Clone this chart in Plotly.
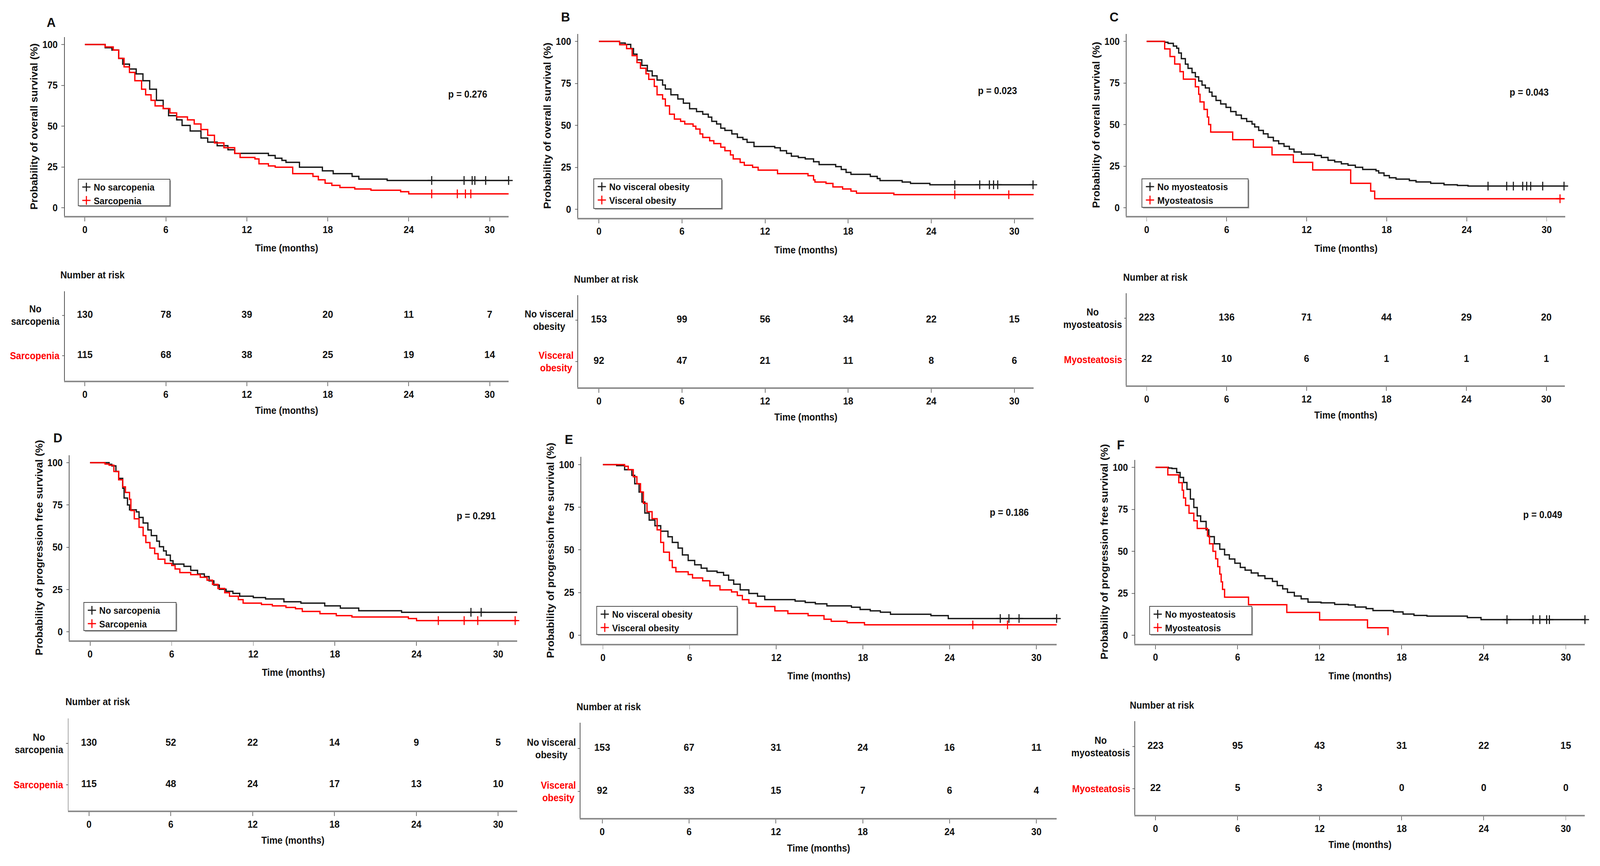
import numpy as np
import plotly.graph_objects as go

W, H = 4352, 2218

# ---------------------------------------------------------------- data
MONTH_TICKS = [0, 6, 12, 18, 24, 30]
PROB_TICKS = [0, 25, 50, 75, 100]
OS_TITLE = "Probability of overall survival (%)"
PFS_TITLE = "Probability of progression free survival (%)"
P_VALUES = ["p = 0.276", "p = 0.023", "p = 0.043", "p = 0.291", "p = 0.186", "p = 0.049"]
PANEL_LETTERS = ["A", "B", "C", "D", "E", "F"]

LBL_SARC = ["No sarcopenia", "Sarcopenia"]
LBL_VISC = ["No visceral obesity", "Visceral obesity"]
LBL_MYO = ["No myosteatosis", "Myosteatosis"]
ROW_SARC = ["No<br>sarcopenia", "Sarcopenia"]
ROW_VISC = ["No visceral<br>obesity", "Visceral<br>obesity"]
ROW_MYO = ["No<br>myosteatosis", "Myosteatosis"]

# Panel A - OS, sarcopenia
A_no_t = [0, 1.5, 2.0, 2.5, 2.8, 3.3, 3.8, 4.3, 4.8, 5.3, 5.8, 6.2, 6.8, 7.2, 7.8, 8.6, 9.1, 9.8, 10.6, 11.1,
          13.6, 14.1, 14.6, 14.9, 15.9, 17.6, 18.4, 19.8, 20.3, 22.4, 31.4]
A_no_s = [100, 98, 96.6, 91.5, 88, 85, 82, 77.8, 72.6, 65.8, 60.7, 56.4, 53.8, 50.4, 47, 42.7, 40.2, 38, 35.5, 33.3,
          32, 30.3, 29, 27.8, 24.8, 22.6, 20.9, 19.2, 17.5, 16.7, 16.7]
A_no_cens = [25.7, 28.1, 28.7, 28.9, 29.7, 31.4]
A_yes_t = [0, 1.5, 2.1, 2.5, 2.9, 3.3, 3.7, 4.2, 4.5, 4.9, 5.2, 5.8, 6.3, 6.8, 7.6, 8.1, 8.6, 9.1, 9.6, 10.3,
           11.1, 11.5, 12.6, 12.9, 13.6, 14.1, 15.4, 16.9, 17.3, 17.8, 18.3, 18.9, 20.0, 21.2, 23.4, 24.0, 31.4]
A_yes_s = [100, 98.5, 96.6, 91.5, 86.3, 82.9, 77.8, 72.6, 69.2, 65.8, 62.4, 60.7, 58.1, 55.6, 53.8, 51.3, 47.9, 44.4,
           39.7, 36.8, 33.3, 30.8, 29.9, 26.9, 25.6, 24.8, 20.9, 19.2, 17.1, 15, 13.7, 12.4, 11.5, 10.7, 9.8, 8.5, 8.5]
A_yes_cens = [25.7, 27.6, 28.2, 28.6]
A_risk_no = [130, 78, 39, 20, 11, 7]
A_risk_yes = [115, 68, 38, 25, 19, 14]

# Panel B - OS, visceral obesity
B_no_t = [0, 1.5, 1.9, 2.3, 2.5, 2.75, 3.1, 3.5, 3.85, 4.2, 4.6, 4.8, 5.2, 5.7, 6.1, 6.55, 7.05, 7.5, 7.9, 8.15,
          8.5, 8.8, 9.1, 9.6, 10.0, 10.4, 10.7, 11.2, 12.7, 13.1, 13.55, 13.9, 14.4, 14.9, 15.5, 15.9, 17.1, 17.5,
          17.85, 18.2, 19.6, 20.1, 20.3, 21.9, 22.5, 23.9, 31.35]
B_no_s = [100, 99, 98.2, 95.7, 92.4, 89, 85.7, 82.4, 79.5, 77, 74, 71.6, 68.2, 65.7, 63.2, 59.9, 58.2, 56.6, 54.9,
          52.4, 50.8, 48.3, 47, 44.9, 42.8, 41.6, 39.9, 37.4, 36.6, 34.9, 33.3, 31.6, 30.8, 30, 28.3, 26.6, 25.4,
          23.7, 22, 20.8, 19.6, 18.3, 17.1, 16.2, 15.4, 14.6, 14.6]
B_no_cens = [25.7, 27.5, 28.2, 28.5, 28.8, 31.35]
B_yes_t = [0, 1.5, 2.0, 2.4, 2.75, 3.0, 3.4, 3.6, 4.0, 4.2, 4.6, 4.8, 5.1, 5.45, 5.9, 6.2, 6.8, 7.0, 7.3, 7.5, 8.0,
           8.3, 8.8, 9.1, 9.5, 9.7, 10.2, 10.5, 11.1, 11.5, 12.9, 15.1, 15.5, 15.6, 16.4, 16.9, 17.6, 18.2, 18.6,
           21.3, 31.4]
B_yes_s = [100, 98, 95.7, 91.5, 87.4, 84, 80.7, 77.4, 73.2, 68.2, 65.7, 61.6, 56.6, 53.7, 52.4, 50.8, 49.5, 47.8,
           44.9, 42.8, 40.8, 39.1, 37, 34.9, 32.4, 30, 27.9, 26.2, 25, 23.3, 21.2, 20, 17.5, 16.2, 15.4, 13.3, 12.1,
           10.8, 9.6, 8.7, 8.7]
B_yes_cens = [25.7, 29.6, 32.0]
B_risk_no = [153, 99, 56, 34, 22, 15]
B_risk_yes = [92, 47, 21, 11, 8, 6]

# Panel C - OS, myosteatosis
C_no_t = [0, 1.35, 1.6, 2.0, 2.25, 2.4, 2.6, 2.9, 3.1, 3.4, 3.65, 3.9, 4.15, 4.4, 4.7, 4.9, 5.2, 5.55, 5.95, 6.3,
          6.7, 7.1, 7.5, 7.9, 8.1, 8.4, 8.75, 9.1, 9.5, 9.9, 10.3, 10.7, 11.05, 11.6, 12.6, 13.1, 13.6, 14.1, 14.6,
          15.1, 15.65, 16.2, 17.2, 17.4, 17.8, 18.2, 18.7, 19.7, 20.2, 21.3, 22.3, 23.3, 24.1, 31.3]
C_no_s = [100, 99.5, 98.8, 97.2, 95.9, 93, 89.6, 86.3, 83.8, 81.2, 78.7, 76.2, 73.7, 72, 69.5, 67, 64.5, 62.4, 60.3,
          57.8, 55.7, 53.6, 51.9, 50.3, 48.6, 46.5, 44.4, 42.3, 40.2, 38.5, 36.9, 35.2, 33.5, 32.2, 31.4, 30.2, 28.5,
          27.6, 26.4, 25.5, 24.3, 23, 22.2, 20.9, 19.3, 18, 17.2, 16.3, 15.5, 14.7, 13.8, 13.4, 13, 13]
C_no_cens = [25.6, 27.0, 27.5, 28.2, 28.5, 28.8, 29.7, 31.3]
C_yes_t = [0, 1.35, 1.75, 2.1, 2.5, 2.75, 3.65, 3.9, 4.0, 4.3, 4.55, 4.65, 4.8, 6.45, 8.0, 9.4, 11.0, 12.45, 15.3,
           16.8, 17.1, 31.35]
C_yes_s = [100, 95.5, 90.9, 86.4, 81.8, 77.3, 72.7, 68.2, 63.6, 59.1, 54.5, 50, 45.5, 40.9, 36.4, 31.8, 27.3, 22.7,
           14.7, 10, 5.4, 5.4]
C_yes_cens = [31.0]
C_risk_no = [223, 136, 71, 44, 29, 20]
C_risk_yes = [22, 10, 6, 1, 1, 1]

# Panel D - PFS, sarcopenia
D_no_t = [0, 1.4, 1.6, 1.9, 2.1, 2.4, 2.5, 2.75, 2.9, 3.4, 3.6, 3.9, 4.25, 4.5, 4.9, 5.1, 5.4, 5.6, 5.9, 6.1, 6.9,
          7.4, 7.9, 8.4, 8.75, 9.1, 9.5, 10.0, 10.5, 11.0, 12.0, 12.9, 14.25, 15.5, 17.25, 18.4, 19.75, 22.9, 31.4]
D_no_s = [100, 99, 98.1, 94.8, 90.7, 84.9, 79.1, 75, 72.1, 70.9, 67.6, 64.3, 60.2, 56.9, 53.6, 50.3, 47.8, 45.3, 42,
          40, 38.7, 36.3, 34.2, 32.6, 30.1, 27.6, 25.1, 23.9, 22.7, 21, 20.2, 19.4, 17.7, 16.9, 15.3, 14, 12.4, 11.5,
          11.5]
D_no_cens = [28.0, 28.75]
D_yes_t = [0, 1.1, 1.4, 1.75, 2.1, 2.4, 2.6, 2.9, 3.0, 3.25, 3.6, 3.9, 4.1, 4.4, 4.75, 5.0, 5.5, 6.0, 6.25, 6.6,
           7.4, 8.1, 8.6, 9.0, 9.4, 9.9, 10.25, 10.9, 11.25, 12.6, 13.4, 14.4, 15.1, 15.6, 16.9, 18.1, 19.25, 23.4,
           24.0, 31.4]
D_yes_s = [100, 99.2, 98.5, 94.8, 89.9, 85.7, 82.4, 78.3, 71.7, 66.8, 61.8, 56.9, 52.8, 49.5, 46.2, 42.9, 40.4, 39.2,
           37.1, 35, 33.8, 32.2, 30.5, 28, 25.6, 23.1, 21, 19, 16.9, 16.1, 15.3, 14.4, 13.6, 12, 10.7, 9.5, 8.7, 7.8,
           6.6, 6.6]
D_yes_cens = [25.6, 27.5, 28.5, 31.25]
D_risk_no = [130, 52, 22, 14, 9, 5]
D_risk_yes = [115, 48, 24, 17, 13, 10]

# Panel E - PFS, visceral obesity
E_no_t = [0, 0.95, 1.5, 2.0, 2.2, 2.5, 2.7, 2.9, 3.2, 3.6, 4.0, 4.5, 4.8, 5.2, 5.5, 5.9, 6.35, 6.8, 7.2, 7.9, 8.35,
          8.7, 9.05, 9.5, 10.1, 10.7, 11.2, 13.3, 14.0, 14.7, 15.5, 17.2, 17.8, 18.5, 19.2, 19.9, 22.7, 23.9, 31.4]
E_no_s = [100, 99.4, 97, 93.7, 88.8, 83.9, 78.1, 71.6, 67.5, 64.2, 61, 57.7, 54.4, 51.1, 47.1, 43.8, 41.3, 39.3,
          37.6, 36.8, 35.2, 32.3, 29.9, 26.6, 24.5, 22.9, 20.9, 20, 19.2, 18.4, 17.2, 16.4, 15.1, 14.3, 13.5, 12.3,
          11.5, 9.8, 9.8]
E_no_cens = [27.5, 28.1, 28.8, 31.4]
E_yes_t = [0, 1.5, 1.75, 2.1, 2.35, 2.6, 2.8, 3.05, 3.4, 3.75, 4.0, 4.2, 4.6, 4.8, 5.05, 5.9, 6.2, 6.9, 7.4, 8.1,
           8.9, 9.3, 9.65, 10.1, 10.6, 11.9, 12.8, 14.2, 15.3, 15.8, 16.9, 18.1, 31.4]
E_yes_s = [100, 99, 97, 92.9, 88.8, 83.9, 77.3, 72.4, 68.3, 61.8, 54.4, 48.7, 43.8, 39.7, 37.2, 35.6, 33.6, 31.9,
           29, 26.6, 25.4, 23.3, 20.9, 18.8, 16.8, 14.3, 12.7, 11.5, 9.4, 8.2, 7.4, 6.1, 6.1]
E_yes_cens = [25.6, 28.0]
E_risk_no = [153, 67, 31, 24, 16, 11]
E_risk_yes = [92, 33, 15, 7, 6, 4]

# Panel F - PFS, myosteatosis
F_no_t = [0, 0.95, 1.2, 1.55, 1.8, 2.05, 2.3, 2.55, 2.8, 3.05, 3.3, 3.7, 3.9, 4.3, 4.7, 5.05, 5.4, 5.8, 6.2, 6.55,
          7.0, 7.5, 8.0, 8.55, 8.9, 9.3, 9.65, 10.15, 10.65, 11.15, 12.1, 13.1, 14.1, 14.6, 15.4, 15.9, 17.4, 18.1,
          18.9, 19.85, 22.8, 23.8, 31.4]
F_no_s = [100, 99.6, 99.3, 96.9, 94, 91, 86.9, 81.1, 76.1, 71.1, 67.8, 62.8, 58.7, 54.5, 51.2, 47.9, 45.4, 42.9,
          40.4, 38.8, 37.1, 35.4, 33.8, 32.1, 29.6, 27.6, 25.5, 23.4, 21.7, 19.7, 19.3, 18.4, 18, 16.8, 15.9, 14.7,
          13.9, 12.6, 11.8, 11.4, 10.5, 9.3, 9.3]
F_no_cens = [25.7, 27.6, 28.1, 28.6, 28.8, 31.4]
F_yes_t = [0, 0.9, 1.7, 1.95, 2.05, 2.2, 2.45, 2.8, 3.05, 3.8, 3.95, 4.2, 4.4, 4.55, 4.7, 4.8, 4.9, 5.05, 6.8, 9.6,
           12.0, 15.5, 17.0]
F_yes_s = [100, 95.5, 90.9, 86.4, 81.8, 77.3, 72.7, 68.2, 63.6, 59.1, 54.5, 50, 45.5, 40.9, 36.4, 31.8, 27.3, 22.7,
           18.2, 13.6, 9.1, 4.5, 0]
F_yes_cens = []
F_risk_no = [223, 95, 43, 31, 22, 15]
F_risk_yes = [22, 5, 3, 0, 0, 0]

# ---------------------------------------------------------------- styling / layout geometry (pixels)
FONT = "Liberation Sans, Arial, Helvetica, sans-serif"
BLACK = "#1a1a1a"
RED = "#ff0000"
TXT = 25


def fnt(size, color="#111111"):
    return dict(family=FONT, size=size, color=color, weight="bold")


panels = [
    dict(km=(231, 1332, 114, 532), risk=(231, 1332, 808, 911), letter=(139, 57), p=(1272, 241),
         box=(213, 459, 462, 527), nar=(162, 704), t1=A_no_t, s1=A_no_s, c1=A_no_cens, t2=A_yes_t, s2=A_yes_s,
         c2=A_yes_cens, n1=A_risk_no, n2=A_risk_yes, labels=LBL_SARC, rows=ROW_SARC, ytitle=OS_TITLE),
    dict(km=(1629, 2759, 106, 536), risk=(1629, 2759, 820, 926), letter=(1538, 43), p=(2713, 232),
         box=(1615, 458, 1963, 534), nar=(1559, 715), t1=B_no_t, s1=B_no_s, c1=B_no_cens, t2=B_yes_t, s2=B_yes_s,
         c2=B_yes_cens, n1=B_risk_no, n2=B_risk_yes, labels=LBL_VISC, rows=ROW_VISC, ytitle=OS_TITLE),
    dict(km=(3119, 4207, 106, 532), risk=(3119, 4206, 815, 921), letter=(3030, 43), p=(4159, 236),
         box=(3106, 458, 3395, 531), nar=(3053, 710), t1=C_no_t, s1=C_no_s, c1=C_no_cens, t2=C_yes_t, s2=C_yes_s,
         c2=C_yes_cens, n1=C_risk_no, n2=C_risk_yes, labels=LBL_MYO, rows=ROW_MYO, ytitle=OS_TITLE),
    dict(km=(245, 1355, 1185, 1618), risk=(242, 1355, 1904, 2010), letter=(157, 1121), p=(1295, 1321),
         box=(228, 1543, 479, 1615), nar=(176, 1797), t1=D_no_t, s1=D_no_s, c1=D_no_cens, t2=D_yes_t, s2=D_yes_s,
         c2=D_yes_cens, n1=D_risk_no, n2=D_risk_yes, labels=LBL_SARC, rows=ROW_SARC, ytitle=PFS_TITLE),
    dict(km=(1640, 2819, 1190, 1627), risk=(1638, 2819, 1917, 2027), letter=(1547, 1125), p=(2745, 1312),
         box=(1623, 1553, 2005, 1625), nar=(1566, 1810), t1=E_no_t, s1=E_no_s, c1=E_no_cens, t2=E_yes_t,
         s2=E_yes_s, c2=E_yes_cens, n1=E_risk_no, n2=E_risk_yes, labels=LBL_VISC, rows=ROW_VISC, ytitle=PFS_TITLE),
    dict(km=(3143, 4259, 1197, 1627), risk=(3143, 4259, 1912, 2020), letter=(3048, 1139), p=(4196, 1318),
         box=(3127, 1553, 3405, 1625), nar=(3071, 1806), t1=F_no_t, s1=F_no_s, c1=F_no_cens, t2=F_yes_t,
         s2=F_yes_s, c2=F_yes_cens, n1=F_risk_no, n2=F_risk_yes, labels=LBL_MYO, rows=ROW_MYO, ytitle=PFS_TITLE),
]

X_RANGE = [-1.5, 31.4]
Y_RANGE = [-5, 104.5]
R_RANGE = [-0.62, 1.6]


def step_at(ts, ss, c):
    ts = np.asarray(ts, dtype=float)
    ss = np.asarray(ss, dtype=float)
    c = np.asarray(c, dtype=float)
    if c.size == 0:
        return []
    idx = np.clip(np.searchsorted(ts, c, side="right") - 1, 0, len(ss) - 1)
    return ss[idx].tolist()


def px_x(v):
    return v / W


def px_y(v):
    return 1 - v / H


fig = go.Figure()
layout = dict(width=W, height=H, margin=dict(l=0, r=0, t=0, b=0), autosize=False,
              paper_bgcolor="white", plot_bgcolor="white", font=fnt(TXT), annotations=[], shapes=[],
              showlegend=True)

for i, P in enumerate(panels):
    k = i + 1
    kr = i + 7
    leg_name = "legend" if k == 1 else f"legend{k}"
    xa, ya = f"x{k}", f"y{k}"
    xr, yr = f"x{kr}", f"y{kr}"

    # --- KM curves + censor marks
    for t, s, c, col in [(P["t1"], P["s1"], P["c1"], BLACK), (P["t2"], P["s2"], P["c2"], RED)]:
        fig.add_trace(go.Scatter(x=t, y=s, mode="lines", line=dict(color=col, width=3.5, shape="hv"),
                                 xaxis=xa, yaxis=ya, showlegend=False, hoverinfo="skip"))
        fig.add_trace(go.Scatter(x=c, y=step_at(t, s, c), mode="markers",
                                 marker=dict(symbol="cross-thin-open", size=16, color=col,
                                             line=dict(color=col, width=3)),
                                 xaxis=xa, yaxis=ya, cliponaxis=False, showlegend=False, hoverinfo="skip"))
    # --- legend entries (censor-mark symbol, no data drawn)
    for col, lab in [(BLACK, P["labels"][0]), (RED, P["labels"][1])]:
        fig.add_trace(go.Scatter(x=[None], y=[None], mode="markers", name=lab, legend=leg_name,
                                 marker=dict(symbol="cross-thin-open", size=16, color=col,
                                             line=dict(color=col, width=3)),
                                 xaxis=xa, yaxis=ya, showlegend=True))

    # --- risk table numbers
    for yrow, vals in [(1, P["n1"]), (0, P["n2"])]:
        fig.add_trace(go.Scatter(x=MONTH_TICKS, y=[yrow] * len(vals), mode="text",
                                 text=[str(v) for v in vals], textposition="middle center",
                                 textfont=fnt(26), xaxis=xr, yaxis=yr, showlegend=False,
                                 hoverinfo="skip", cliponaxis=False))

    # --- KM axes geometry
    x0, x30, y100, y0 = P["km"]
    ppm = (x30 - x0) / 30.0
    ppp = (y0 - y100) / 100.0
    left, right = x0 + X_RANGE[0] * ppm, x0 + X_RANGE[1] * ppm
    top, bot = y0 - Y_RANGE[1] * ppp, y0 - Y_RANGE[0] * ppp
    layout[f"xaxis{k}"] = dict(domain=[px_x(left), px_x(right)], range=X_RANGE, anchor=ya,
                               tickvals=MONTH_TICKS, ticks="outside", ticklen=10, tickwidth=2,
                               tickcolor="#777777", showline=True, linewidth=4, linecolor="#8c8c8c",
                               showgrid=False, zeroline=False, tickfont=fnt(TXT),
                               title=dict(text="Time (months)", font=fnt(TXT), standoff=27))
    layout[f"yaxis{k}"] = dict(domain=[px_y(bot), px_y(top)], range=Y_RANGE, anchor=xa,
                               tickvals=PROB_TICKS, ticks="outside", ticklen=7, tickwidth=2,
                               tickcolor="#777777", showline=True, linewidth=2, linecolor="#555555",
                               showgrid=False, zeroline=False, tickfont=fnt(TXT), ticklabelstandoff=5,
                               title=dict(text=P["ytitle"], font=fnt(27), standoff=5))

    # --- risk axes geometry
    rx0, rx30, r1, r2 = P["risk"]
    rppm = (rx30 - rx0) / 30.0
    d = r2 - r1
    rleft, rright = rx0 + X_RANGE[0] * rppm, rx0 + X_RANGE[1] * rppm
    rtop, rbot = r2 - R_RANGE[1] * d, r2 - R_RANGE[0] * d
    layout[f"xaxis{kr}"] = dict(domain=[px_x(rleft), px_x(rright)], range=X_RANGE, anchor=yr,
                                tickvals=MONTH_TICKS, ticks="outside", ticklen=10, tickwidth=2,
                                tickcolor="#777777", showline=True, linewidth=4, linecolor="#8c8c8c",
                                showgrid=False, zeroline=False, tickfont=fnt(TXT),
                                title=dict(text="Time (months)", font=fnt(TXT), standoff=21))
    layout[f"yaxis{kr}"] = dict(domain=[px_y(rbot), px_y(rtop)], range=R_RANGE, anchor=xr,
                                tickvals=[1, 0], showticklabels=False,
                                ticks="outside", ticklen=5, tickwidth=2, tickcolor="#777777",
                                showline=True, linewidth=2, linecolor="#555555", showgrid=False,
                                zeroline=False)
    # row labels of the risk table (centred lines, right-aligned block next to the axis)
    for yrow, lab, col in [(r1, P["rows"][0], "#111111"), (r2, P["rows"][1], RED)]:
        layout["annotations"].append(dict(text=lab, x=px_x(rleft - 11), y=px_y(yrow), xref="paper",
                                          yref="paper", xanchor="right", yanchor="middle", align="center",
                                          showarrow=False, font=fnt(TXT, col)))

    # --- legend box (shadow + framed white box), legend entries placed inside
    bl, bt, br, bb = P["box"]
    layout["shapes"].append(dict(type="rect", xref="paper", yref="paper", layer="above",
                                 x0=px_x(bl + 3), x1=px_x(br + 3), y0=px_y(bb + 3), y1=px_y(bt + 3),
                                 fillcolor="#a6a6a6", line=dict(width=0)))
    layout["shapes"].append(dict(type="rect", xref="paper", yref="paper", layer="above",
                                 x0=px_x(bl), x1=px_x(br), y0=px_y(bb), y1=px_y(bt),
                                 fillcolor="white", line=dict(color="#4d4d4d", width=2)))
    layout[leg_name] = dict(x=px_x(bl + 2), y=px_y(bt - 2), xanchor="left", yanchor="top", xref="paper",
                            yref="paper", bgcolor="rgba(0,0,0,0)", borderwidth=0, font=fnt(24),
                            itemwidth=30, traceorder="normal", tracegroupgap=0)

    # --- annotations
    ax_, ay_ = P["letter"]
    layout["annotations"].append(dict(text=PANEL_LETTERS[i], x=px_x(ax_), y=px_y(ay_), xref="paper", yref="paper",
                                      xanchor="center", yanchor="middle", showarrow=False, font=fnt(34)))
    pxp, pyp = P["p"]
    layout["annotations"].append(dict(text=P_VALUES[i], x=px_x(pxp), y=px_y(pyp), xref="paper", yref="paper",
                                      xanchor="center", yanchor="middle", showarrow=False, font=fnt(TXT)))
    nx, ny = P["nar"]
    layout["annotations"].append(dict(text="Number at risk", x=px_x(nx), y=px_y(ny), xref="paper", yref="paper",
                                      xanchor="left", yanchor="middle", showarrow=False, font=fnt(TXT)))

fig.update_layout(**layout)

# map the fixed 4352x2218 figure onto whatever viewport the browser really has
POST = """
(function(){
  var gd = document.getElementById('{plot_id}');
  document.documentElement.style.margin = '0';
  document.body.style.margin = '0';
  document.documentElement.style.overflow = 'hidden';
  document.body.style.overflow = 'hidden';
  var sx = window.innerWidth / %d, sy = window.innerHeight / %d;
  if (Math.abs(sx - 1) > 0.002 || Math.abs(sy - 1) > 0.002) {
    gd.style.transformOrigin = '0 0';
    gd.style.transform = 'scale(' + sx + ',' + sy + ')';
  }
})();
""" % (W, H)

fig.write_html("out.html", post_script=POST, config={"displayModeBar": False})
